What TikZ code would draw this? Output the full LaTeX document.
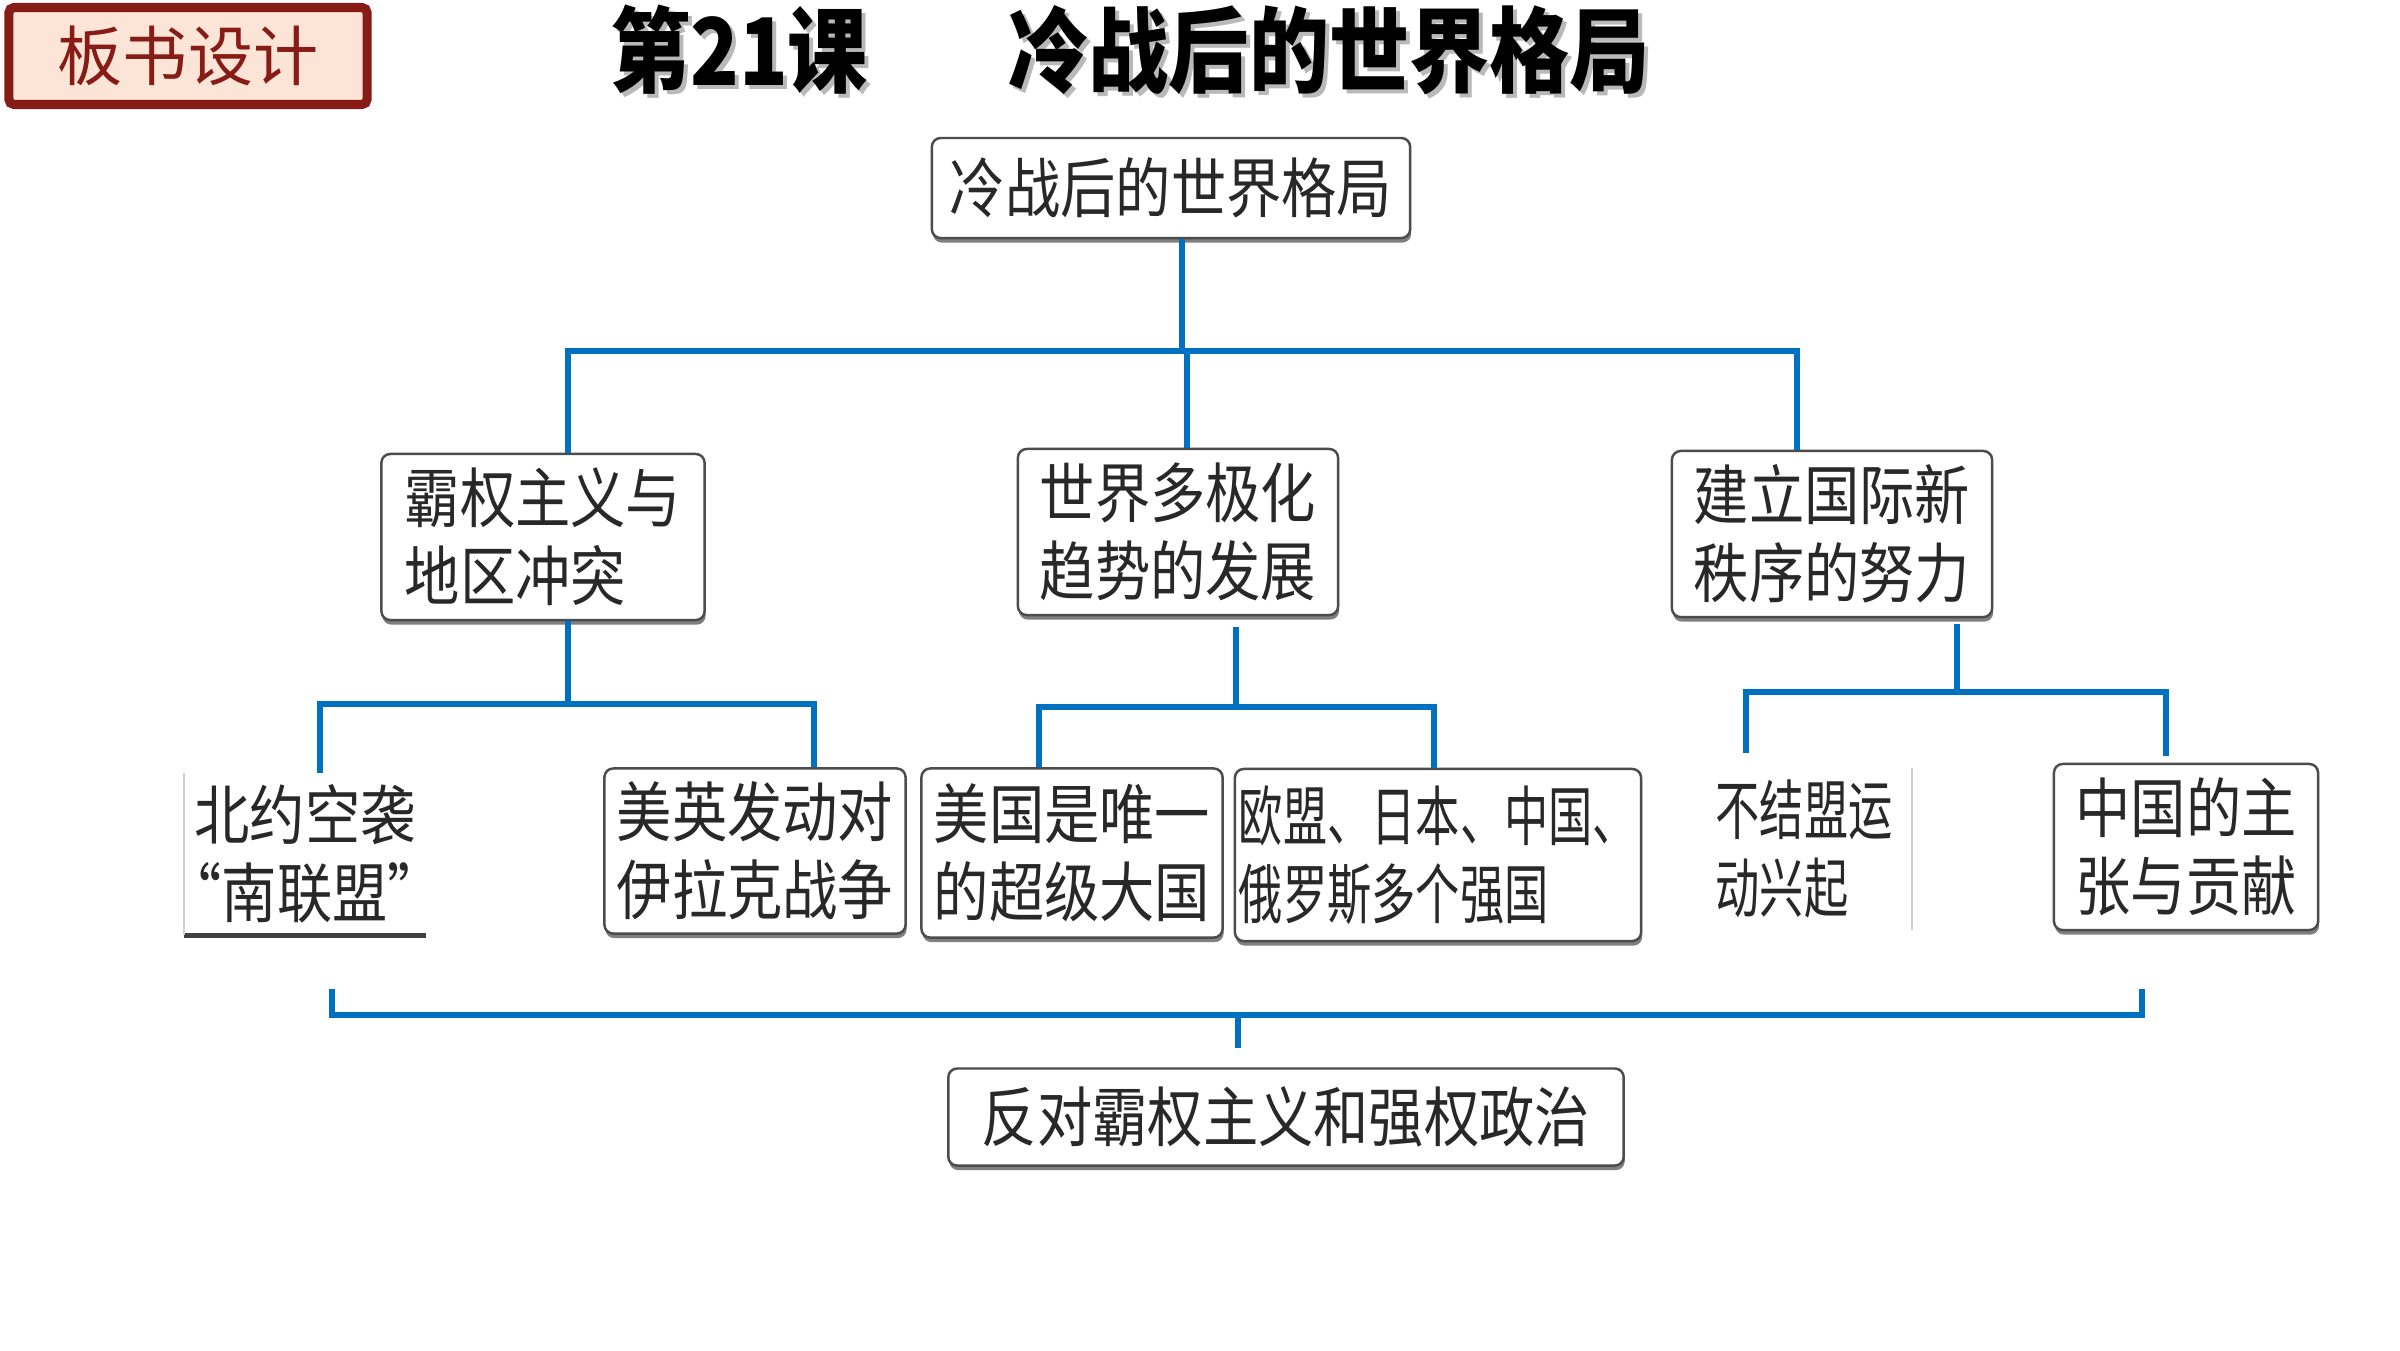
\documentclass[tikz,border=0pt]{standalone}
\usepackage{fontspec}
\usepackage{tikz}
\usetikzlibrary{calc,shadows}
\newfontfamily\cjk[FakeStretch=0.85]{Noto Sans CJK SC}
\newfontfamily\cjknarrow[FakeStretch=0.68]{Noto Sans CJK SC}
\newfontfamily\cjkplain{Noto Sans CJK SC}
\newfontfamily\cjkhead[FakeStretch=0.86]{Noto Sans CJK SC}
\definecolor{linkblue}{RGB}{0,112,192}
\definecolor{tagred}{RGB}{135,28,22}
\definecolor{tagfill}{RGB}{252,228,214}
\definecolor{inkgray}{RGB}{40,40,40}

\tikzset{
  topicbox/.style={draw=gray!60!black, line width=0.7pt, rounded corners=2.5pt, fill=white,
    drop shadow={shadow xshift=0.3pt, shadow yshift=-1.3pt, fill=gray!90!black, opacity=0.9},
    text=inkgray, font={\cjk\fontsize{18.5}{22.2}\selectfont}, align=left, inner sep=0pt},
  leafbox/.style={topicbox},
  barebox/.style={text=inkgray, font={\cjk\fontsize{18.5}{22.2}\selectfont}, align=left, inner sep=0pt},
  narrowtext/.style={font={\cjknarrow\fontsize{18.5}{22.2}\selectfont}},
  bus/.style={draw=linkblue, line width=1.5pt},
}

\begin{document}
\begin{tikzpicture}[x=0.01cm, y=-0.01cm]
  \fill[white] (0,0) rectangle (2400,1350);
  \useasboundingbox (0,0) rectangle (2400,1350);

  % heading
  \node[draw=tagred, line width=2.6pt, fill=tagfill, rounded corners=1.5pt,
        minimum width=3.58cm, minimum height=0.97cm, inner sep=0pt,
        text=tagred, font={\cjkplain\fontsize{18.5}{22}\selectfont}] (tag) at (188,56) {板书设计};
  \node[text=gray!55, font={\cjkhead\bfseries\fontsize{26.5}{30}\selectfont}] (titleshade) at (1134,54)
        {第21课\hspace{40pt}冷战后的世界格局};
  \node[text=black, font={\cjkhead\bfseries\fontsize{26.5}{30}\selectfont}] (title) at (1130,50)
        {第21课\hspace{40pt}冷战后的世界格局};

  % boxes
  \node[topicbox, minimum width=4.78cm, minimum height=1cm] (root) at (1171,188) {冷战后的世界格局};
  \node[topicbox, minimum width=3.23cm, minimum height=1.66cm] (hegemony) at (543,537) {霸权主义与\\地区冲突};
  \node[topicbox, minimum width=3.2cm, minimum height=1.66cm] (multipolar) at (1178,532) {世界多极化\\趋势的发展};
  \node[topicbox, minimum width=3.2cm, minimum height=1.66cm] (neworder) at (1832,534) {建立国际新\\秩序的努力};

  \node[barebox, minimum width=2.41cm, minimum height=1.61cm] (nato) at (305,854)
        {北约空袭\\\makebox[0.42em][r]{“}南联盟\makebox[0.42em][l]{”}};
  \draw[gray!50!black, line width=1.5pt] (nato.south west) -- (nato.south east);
  \draw[gray!35, line width=0.6pt] (nato.north west) -- (nato.south west);
  \node[leafbox, minimum width=3.01cm, minimum height=1.65cm] (iraq) at (755,851) {美英发动对\\伊拉克战争};
  \node[leafbox, minimum width=3.01cm, minimum height=1.69cm] (usa) at (1072,853) {美国是唯一\\的超级大国};
  \node[leafbox, narrowtext, minimum width=4.06cm, minimum height=1.72cm] (powers) at (1438,855) {欧盟、日本、中国、\\俄罗斯多个强国};
  \node[barebox, narrowtext, minimum width=2.15cm, minimum height=1.61cm] (nonaligned) at (1804,849) {不结盟运\\动兴起};
  \draw[gray!35, line width=0.6pt] (nonaligned.north east) -- (nonaligned.south east);
  \node[leafbox, minimum width=2.64cm, minimum height=1.66cm] (china) at (2186,847) {中国的主\\张与贡献};

  \node[topicbox, minimum width=6.75cm, minimum height=0.97cm] (against) at (1286,1117) {反对霸权主义和强权政治};

  % connectors
  \coordinate (hub) at (1182,351);
  \draw[bus] ($(root.south)+(11,0)$) -- (hub);
  \draw[bus] ($(hegemony.north)+(25,0)$) |- (hub) -| ($(neworder.north)+(-35,0)$);
  \draw[bus] ($(multipolar.north)+(9,0)$) -- ++(0,-98);

  \coordinate (hubA) at (568,704);
  \draw[bus] ($(hegemony.south)+(25,0)$) -- (hubA);
  \draw[bus] ($(nato.north)+(15,0)$) |- (hubA) -| ($(iraq.north)+(59,0)$);

  \coordinate (hubB) at (1236,707);
  \draw[bus] ($(multipolar.south)+(58,11)$) -- (hubB);
  \draw[bus] ($(usa.north)+(-33,0)$) |- (hubB) -| ($(powers.north)+(-4,0)$);

  \coordinate (hubC) at (1957,692);
  \draw[bus] ($(neworder.south)+(125,6)$) -- (hubC);
  \draw[bus] ($(nonaligned.north)+(-58,-15)$) |- (hubC) -| ($(china.north)+(-20,-7)$);

  \coordinate (hubD) at (1238,1015);
  \coordinate (bendL) at (332,989);
  \coordinate (bendR) at (2142,989);
  \draw[bus] (bendL) |- (hubD) -| (bendR);
  \draw[bus] (hubD) -- ($(against.north)+(-48,-19)$);
\end{tikzpicture}
\end{document}
